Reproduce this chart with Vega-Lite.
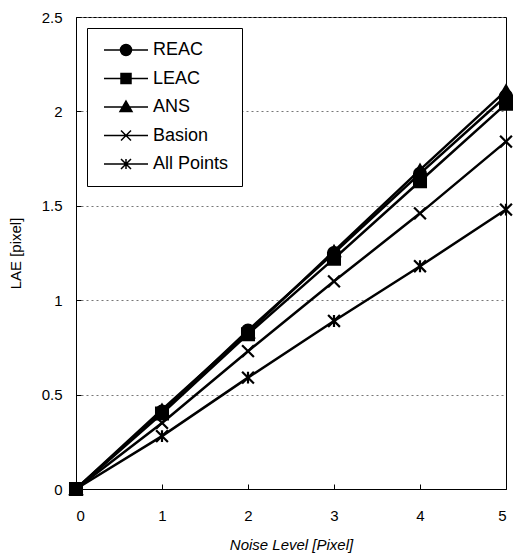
{
  "$schema": "https://vega.github.io/schema/vega-lite/v6.json",
  "width": 430,
  "height": 472,
  "autosize": "none",
  "padding": {"left": 76, "top": 17, "right": 7, "bottom": 65},
  "background": "white",
  "config": {
    "font": "Liberation Sans",
    "view": {"stroke": "black", "strokeWidth": 1},
    "axis": {
      "domainColor": "black",
      "tickColor": "black",
      "labelColor": "black",
      "titleColor": "black",
      "labelFontSize": 15,
      "titleFontSize": 15,
      "titleFontWeight": "normal"
    }
  },
  "data": {
    "values": [
      {"series": "REAC", "noise": 0, "lae": 0},
      {"series": "REAC", "noise": 1, "lae": 0.41},
      {"series": "REAC", "noise": 2, "lae": 0.84},
      {"series": "REAC", "noise": 3, "lae": 1.25},
      {"series": "REAC", "noise": 4, "lae": 1.67},
      {"series": "REAC", "noise": 5, "lae": 2.08},
      {"series": "LEAC", "noise": 0, "lae": 0},
      {"series": "LEAC", "noise": 1, "lae": 0.40},
      {"series": "LEAC", "noise": 2, "lae": 0.82},
      {"series": "LEAC", "noise": 3, "lae": 1.22},
      {"series": "LEAC", "noise": 4, "lae": 1.63},
      {"series": "LEAC", "noise": 5, "lae": 2.04},
      {"series": "ANS", "noise": 0, "lae": 0},
      {"series": "ANS", "noise": 1, "lae": 0.42},
      {"series": "ANS", "noise": 2, "lae": 0.83},
      {"series": "ANS", "noise": 3, "lae": 1.26},
      {"series": "ANS", "noise": 4, "lae": 1.69},
      {"series": "ANS", "noise": 5, "lae": 2.11},
      {"series": "Basion", "noise": 0, "lae": 0},
      {"series": "Basion", "noise": 1, "lae": 0.35},
      {"series": "Basion", "noise": 2, "lae": 0.73},
      {"series": "Basion", "noise": 3, "lae": 1.10},
      {"series": "Basion", "noise": 4, "lae": 1.46},
      {"series": "Basion", "noise": 5, "lae": 1.84},
      {"series": "All Points", "noise": 0, "lae": 0},
      {"series": "All Points", "noise": 1, "lae": 0.28},
      {"series": "All Points", "noise": 2, "lae": 0.59},
      {"series": "All Points", "noise": 3, "lae": 0.89},
      {"series": "All Points", "noise": 4, "lae": 1.18},
      {"series": "All Points", "noise": 5, "lae": 1.48}
    ]
  },
  "encoding": {
    "x": {
      "field": "noise", "type": "quantitative",
      "scale": {"domain": [0, 5], "nice": false},
      "axis": {
        "title": "Noise Level [Pixel]", "titleFontStyle": "italic",
        "values": [0, 1, 2, 3, 4, 5], "grid": false, "format": "~g",
        "tickSize": -5, "labelPadding": 24, "titlePadding": 14
      }
    },
    "y": {
      "field": "lae", "type": "quantitative",
      "scale": {"domain": [0, 2.5], "nice": false},
      "axis": {
        "title": "LAE [pixel]", "format": "~g",
        "values": [0, 0.5, 1, 1.5, 2, 2.5],
        "tickSize": -5, "labelPadding": 19, "titlePadding": 18,
        "grid": true, "gridColor": "#777", "gridDash": [2, 3], "gridWidth": 1
      }
    }
  },
  "layer": [
    {
      "mark": {"type": "line", "color": "black", "strokeWidth": 2.5},
      "encoding": {"detail": {"field": "series"}}
    },
    {
      "mark": {"type": "point", "fill": "black", "stroke": "black", "strokeWidth": 2.2, "opacity": 1, "size": 140},
      "encoding": {
        "shape": {
          "field": "series", "type": "nominal",
          "scale": {
            "domain": ["REAC", "LEAC", "ANS", "Basion", "All Points"],
            "range": ["circle", "square", "triangle-up", "M-1,-1L1,1M-1,1L1,-1", "M-1,-1L1,1M-1,1L1,-1M0,-1V1"]
          },
          "legend": null
        }
      }
    },
    {
      "mark": {"type": "point", "fill": "black", "stroke": "black", "strokeWidth": 2, "opacity": 0},
      "encoding": {
        "shape": {
          "field": "series", "type": "nominal",
          "scale": {
            "domain": ["REAC", "LEAC", "ANS", "Basion", "All Points"],
            "range": [
              "M-4.4,0H4.4M1.1,0A1.1,1.1 0 1,1 -1.1,0A1.1,1.1 0 1,1 1.1,0Z",
              "M-4.4,0H4.4M-1,-1H1V1H-1Z",
              "M-4.4,0H4.4M0,-1.2L1.2,0.9H-1.2Z",
              "M-4.4,0H4.4M-1,-1L1,1M-1,1L1,-1",
              "M-4.4,0H4.4M-1,-1L1,1M-1,1L1,-1M0,-1V1"
            ]
          },
          "legend": {
            "title": null,
            "orient": "top-left",
            "offset": 11,
            "padding": 13,
            "strokeColor": "black",
            "fillColor": "white",
            "symbolSize": 100,
            "symbolOffset": 17,
            "symbolOpacity": 1,
            "labelFontSize": 18,
            "labelColor": "black",
            "labelOffset": 18,
            "rowPadding": 10.5,
            "encode": {
              "symbols": {
                "update": {
                  "fill": {"value": "black"},
                  "stroke": {"value": "black"},
                  "strokeWidth": {"value": 2},
                  "opacity": {"value": 1}
                }
              }
            }
          }
        }
      }
    }
  ],
  "resolve": {"scale": {"shape": "independent"}, "legend": {"shape": "independent"}}
}
